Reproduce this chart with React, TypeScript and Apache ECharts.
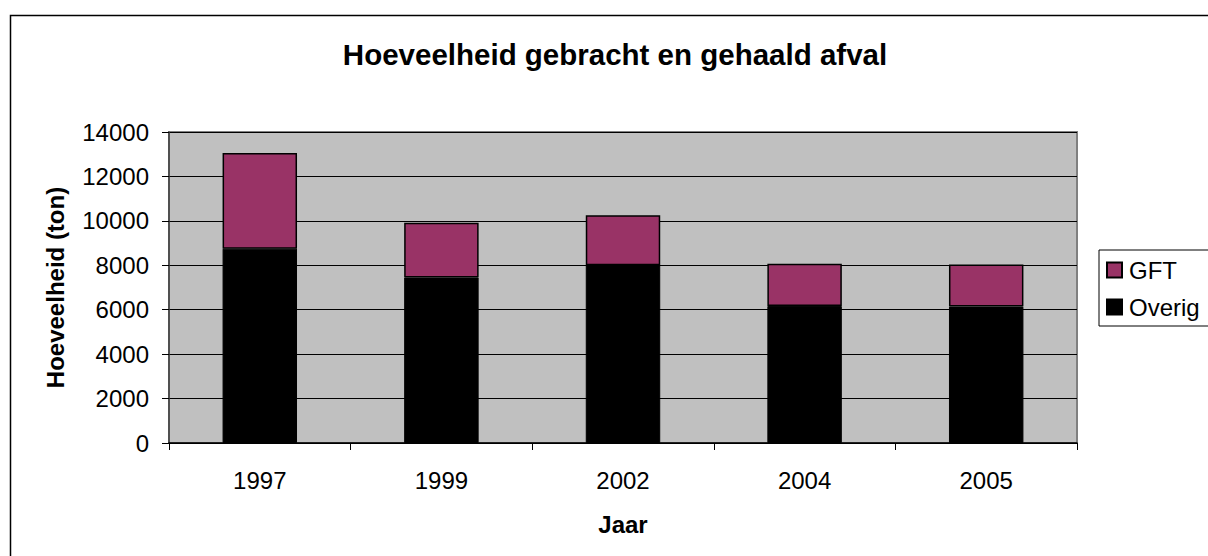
import React, { useEffect, useRef } from "react";
import * as echarts from "echarts";

const categories = ["1997", "1999", "2002", "2004", "2005"];
const overigValues = [8750, 7450, 8000, 6170, 6140];
const gftValues = [4300, 2470, 2250, 1900, 1890];
const seriesNames = ["GFT", "Overig"];
const titleText = "Hoeveelheid gebracht en gehaald afval";
const yAxisTitle = "Hoeveelheid (ton)";
const xAxisTitle = "Jaar";

const FONT = "'Liberation Sans', Arial, sans-serif";

export default function App() {
  const ref = useRef<HTMLDivElement>(null);
  useEffect(() => {
    if (!ref.current) return;
    const chart = echarts.init(ref.current, null, { renderer: "svg" });
    chart.setOption({
      animation: false,
      backgroundColor: "#ffffff",
      textStyle: { fontFamily: FONT },
      graphic: [
        {
          type: "rect",
          shape: { x: 10.5, y: 15.5, width: 1260, height: 600 },
          style: { fill: "none", stroke: "#000", lineWidth: 1.5 },
          silent: true,
          z: -1,
        },
        {
          type: "text",
          x: 615,
          y: 54,
          style: {
            text: titleText,
            fontFamily: FONT,
            fontSize: 29.5,
            fontWeight: "bold",
            fill: "#000",
            textAlign: "center",
            textVerticalAlign: "middle",
          },
        },
      ],
      legend: {
        orient: "vertical",
        left: 1099,
        top: 250,
        data: seriesNames,
        itemWidth: 15,
        itemHeight: 15,
        itemGap: 13,
        padding: [8, 60, 7, 7],
        borderColor: "#000",
        borderWidth: 1,
        backgroundColor: "#fff",
        icon: "rect",
        textStyle: { fontFamily: FONT, fontSize: 24, color: "#000", padding: [0, 0, 0, 2] },
      },
      grid: {
        left: 169,
        top: 132,
        right: 131,
        bottom: 113,
        show: true,
        backgroundColor: "#C0C0C0",
        borderColor: "#808080",
        borderWidth: 2,
      },
      xAxis: {
        type: "category",
        data: categories,
        boundaryGap: true,
        name: xAxisTitle,
        nameLocation: "middle",
        nameGap: 69,
        nameTextStyle: { fontFamily: FONT, fontSize: 24, fontWeight: "bold", color: "#000" },
        axisLine: { show: true, lineStyle: { color: "#000", width: 1.5 } },
        axisTick: { show: true, inside: false, length: 7, alignWithLabel: false, lineStyle: { color: "#000" } },
        axisLabel: { fontFamily: FONT, fontSize: 24, color: "#000", margin: 25 },
        splitLine: { show: false },
      },
      yAxis: {
        type: "value",
        min: 0,
        max: 14000,
        interval: 2000,
        name: yAxisTitle,
        nameLocation: "middle",
        nameGap: 102,
        nameRotate: 90,
        nameTextStyle: { fontFamily: FONT, fontSize: 24, fontWeight: "bold", color: "#000" },
        axisLine: { show: true, lineStyle: { color: "#404040", width: 1.5 } },
        axisTick: { show: true, inside: false, length: 7, lineStyle: { color: "#000" } },
        axisLabel: {
          fontFamily: FONT,
          fontSize: 24,
          color: "#000",
          margin: 20,
          formatter: (v: number) => String(v),
        },
        splitLine: { show: true, lineStyle: { color: "#000", width: 1 } },
      },
      series: [
        {
          name: "Overig",
          type: "bar",
          stack: "total",
          data: overigValues,
          barCategoryGap: "59%",
          itemStyle: { color: "#000000", borderColor: "#000", borderWidth: 1 },
        },
        {
          name: "GFT",
          type: "bar",
          stack: "total",
          data: gftValues,
          barCategoryGap: "59%",
          itemStyle: { color: "#993366", borderColor: "#000", borderWidth: 1.5 },
        },
      ],
    });
    return () => chart.dispose();
  }, []);
  return (
    <div
      ref={ref}
      style={{ position: "absolute", left: 0, top: 0, width: 1208, height: 556 }}
    />
  );
}
